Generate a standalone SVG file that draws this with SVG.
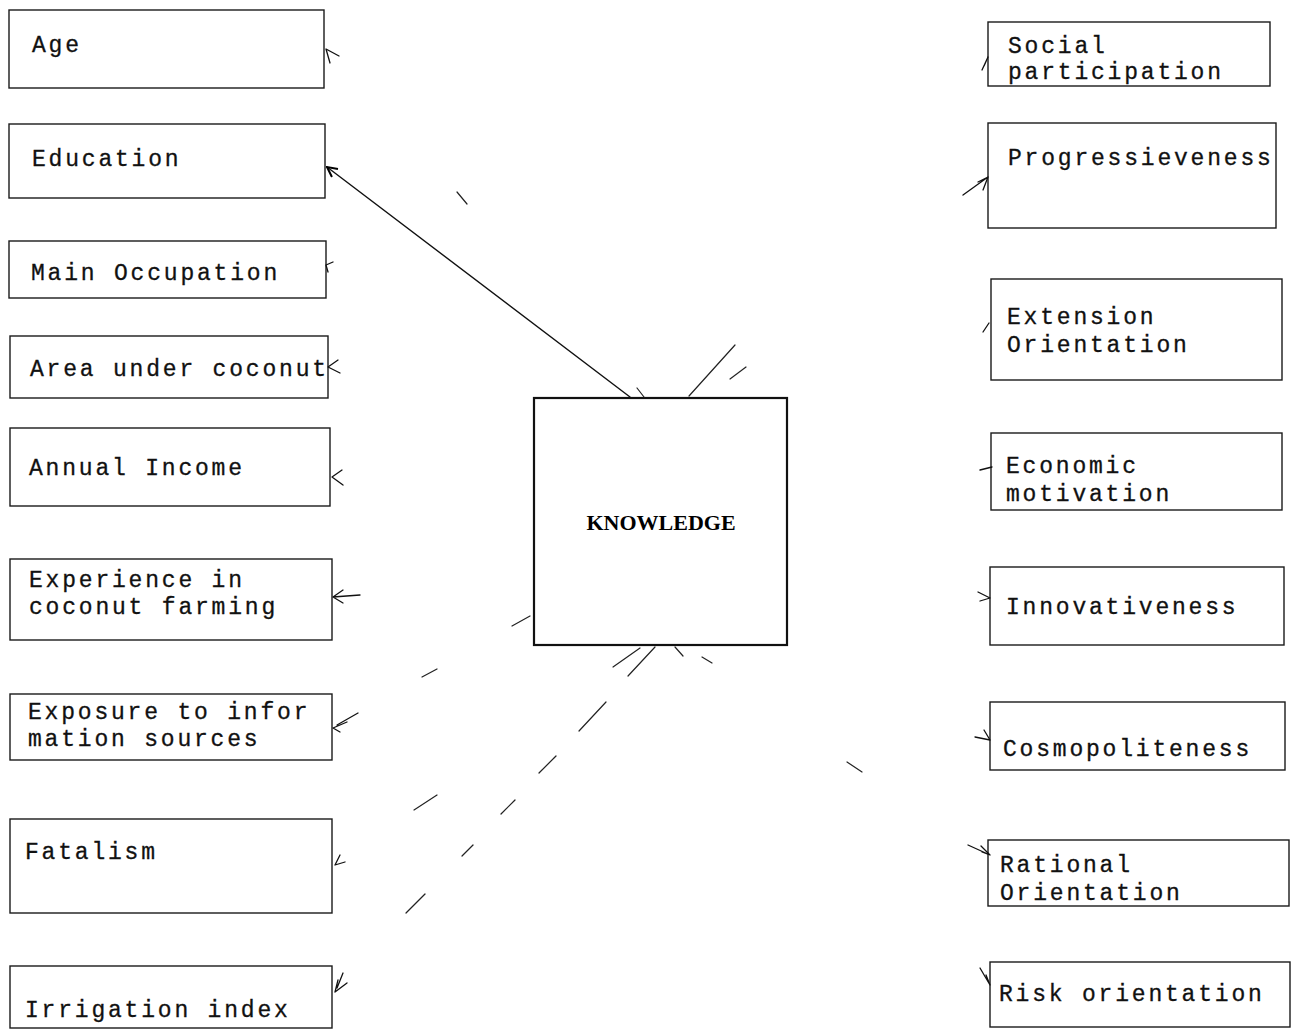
<svg xmlns="http://www.w3.org/2000/svg" width="1294" height="1030" viewBox="0 0 1294 1030">
<style>
.box{fill:none;stroke:#1a1a1a;stroke-width:1.4}
.kbox{fill:none;stroke:#111;stroke-width:2.2}
.t{font-family:"Liberation Mono","DejaVu Sans Mono",monospace;font-size:23px;letter-spacing:2.8px;fill:#111;stroke:#111;stroke-width:0.3}
.k{font-family:"Liberation Serif","DejaVu Serif",serif;font-size:22px;font-weight:bold;fill:#000}
.c{fill:none;stroke:#111;stroke-width:1.4;stroke-linecap:round}
.f{fill:none;stroke:#222;stroke-width:1.2;stroke-linecap:round}
.ah{fill:none;stroke:#111;stroke-width:1.3;stroke-linecap:round;stroke-linejoin:round}
</style>
<defs>
<marker id="arr" viewBox="0 0 12 12" refX="11" refY="6" markerWidth="12" markerHeight="12" markerUnits="userSpaceOnUse" orient="auto">
<path d="M1,1 L11,6 L1,11" fill="none" stroke="#000" stroke-width="2"/>
</marker>
</defs>
<rect width="1294" height="1030" fill="#fff"/>

<g id="knowledge">
<rect class="kbox" x="534" y="398" width="253" height="247"/>
<text class="k" x="661" y="530" text-anchor="middle">KNOWLEDGE</text>
</g>

<g id="age"><rect class="box" x="9" y="10" width="315" height="78"/><text class="t" x="32" y="52">Age</text></g>
<g id="education"><rect class="box" x="9" y="124" width="316" height="74"/><text class="t" x="32" y="166">Education</text></g>
<g id="main-occupation"><rect class="box" x="9" y="241" width="317" height="57"/><text class="t" x="31" y="280">Main Occupation</text></g>
<g id="area-under-coconut"><rect class="box" x="10" y="336" width="318" height="62"/><text class="t" x="30" y="376">Area under coconut</text></g>
<g id="annual-income"><rect class="box" x="10" y="428" width="320" height="78"/><text class="t" x="29" y="475">Annual Income</text></g>
<g id="experience"><rect class="box" x="10" y="559" width="322" height="81"/><text class="t" x="29" y="587">Experience in</text><text class="t" x="29" y="614">coconut farming</text></g>
<g id="exposure"><rect class="box" x="10" y="694" width="322" height="66"/><text class="t" x="28" y="719">Exposure to infor</text><text class="t" x="28" y="746">mation sources</text></g>
<g id="fatalism"><rect class="box" x="10" y="819" width="322" height="94"/><text class="t" x="25" y="859">Fatalism</text></g>
<g id="irrigation-index"><rect class="box" x="10" y="966" width="322" height="62"/><text class="t" x="25" y="1017">Irrigation index</text></g>

<g id="social-participation"><rect class="box" x="988" y="22" width="282" height="64"/><text class="t" x="1008" y="53">Social</text><text class="t" x="1008" y="79">participation</text></g>
<g id="progressieveness"><rect class="box" x="988" y="123" width="288" height="105"/><text class="t" x="1008" y="165">Progressieveness</text></g>
<g id="extension-orientation"><rect class="box" x="991" y="279" width="291" height="101"/><text class="t" x="1007" y="324">Extension</text><text class="t" x="1007" y="352">Orientation</text></g>
<g id="economic-motivation"><rect class="box" x="991" y="433" width="291" height="77"/><text class="t" x="1006" y="473">Economic</text><text class="t" x="1006" y="501">motivation</text></g>
<g id="innovativeness"><rect class="box" x="990" y="567" width="294" height="78"/><text class="t" x="1006" y="614">Innovativeness</text></g>
<g id="cosmopoliteness"><rect class="box" x="990" y="702" width="295" height="68"/><text class="t" x="1003" y="756">Cosmopoliteness</text></g>
<g id="rational-orientation"><rect class="box" x="988" y="840" width="301" height="66"/><text class="t" x="1000" y="872">Rational</text><text class="t" x="1000" y="900">Orientation</text></g>
<g id="risk-orientation"><rect class="box" x="990" y="962" width="300" height="65"/><text class="t" x="999" y="1001">Risk orientation</text></g>

<g id="connectors">
<line class="c" x1="630" y1="397" x2="327" y2="167" marker-end="url(#arr)"/>
<path class="f" d="M457,192 L467,204"/>
<path class="f" d="M637,388 L644,397"/>
<path class="f" d="M689,396 L735,345"/>
<path class="f" d="M730,379 L746,367"/>
<path class="f" d="M512,626 L530,616"/>
<path class="f" d="M422,677 L437,669"/>
<path class="f" d="M613,667 L640,648"/>
<path class="f" d="M628,676 L655,647"/>
<path class="f" d="M675,647 L683,656"/>
<path class="f" d="M702,657 L712,663"/>
<path class="f" d="M579,731 L606,702"/>
<path class="f" d="M539,773 L556,756"/>
<path class="f" d="M414,810 L437,795"/>
<path class="f" d="M501,814 L515,800"/>
<path class="f" d="M462,856 L473,845"/>
<path class="f" d="M406,913 L425,894"/>
<path class="f" d="M847,762 L862,772"/>
<path class="ah" d="M339,56 L326,49 L330,63"/>
<path class="ah" d="M333,262 L326,265 L328,272"/>
<path class="ah" d="M338,360 L328,367 L340,373"/>
<path class="ah" d="M342,470 L332,477 L343,485"/>
<path class="ah" d="M343,590 L333,597 L343,603 M333,597 L360,595"/>
<path class="ah" d="M347,722 L333,728 L340,732 M337,725 L358,713"/>
<path class="ah" d="M345,862 L335,865 L340,855"/>
<path class="ah" d="M347,983 L335,992 L338,980 M337,988 L343,973"/>
<path class="ah" d="M982,70 L988,57 L984,66"/>
<path class="ah" d="M963,195 L988,177 M978,182 L988,177 L983,190"/>
<path class="ah" d="M983,332 L989,323"/>
<path class="ah" d="M980,470 L992,467"/>
<path class="ah" d="M978,592 L990,598 L980,601"/>
<path class="ah" d="M975,737 L990,740 M984,730 L990,740"/>
<path class="ah" d="M968,845 L990,855 M981,846 L990,855 L982,852"/>
<path class="ah" d="M980,968 L990,985 L986,975"/>
</g>
</svg>
